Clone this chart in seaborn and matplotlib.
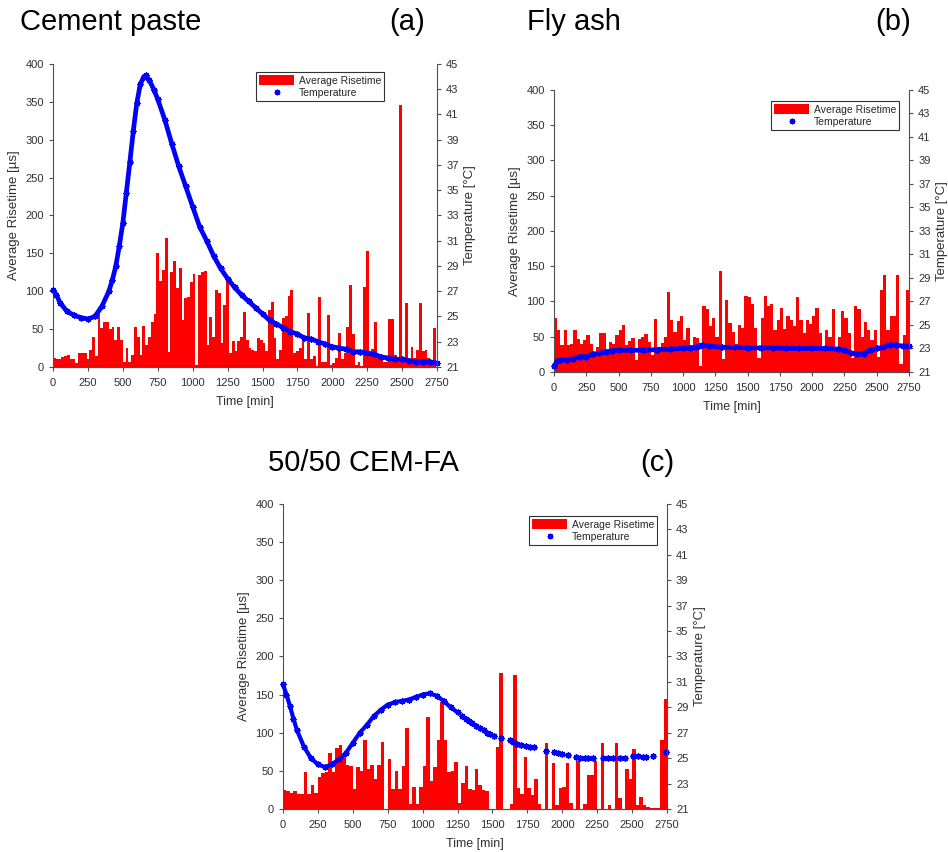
import numpy as np
import pandas as pd
import matplotlib
matplotlib.use("Agg")
import matplotlib.pyplot as plt
import seaborn as sns
from matplotlib.patches import Rectangle
from matplotlib.lines import Line2D

sns.set_style("ticks")
plt.rcParams["font.family"] = ["Liberation Sans", "DejaVu Sans"]

RED = "#ff0000"
BLUE = "#0000ff"
INK = "#303030"
STAR = (8, 2, 0)

# ---------------- Cement paste: average risetime per 20-min bin [µs]
paste_bin_min = 20
paste_risetime = [
    12, 10, 10, 13, 15, 16, 10, 10, 5, 19,
    18, 19, 10, 23, 40, 14, 79, 51, 60, 60,
    50, 53, 36, 53, 35, 7, 25, 7, 16, 53,
    40, 16, 54, 29, 40, 60, 70, 151, 113, 128,
    170, 20, 126, 140, 104, 131, 62, 91, 93, 112,
    123, 3, 121, 126, 127, 29, 66, 40, 102, 97,
    32, 82, 115, 18, 34, 21, 34, 40, 73, 35,
    25, 23, 21, 38, 36, 32, 21, 75, 86, 38,
    10, 23, 64, 67, 94, 102, 18, 21, 25, 36,
    10, 71, 10, 14, 1, 93, 7, 7, 69, 3,
    5, 12, 45, 10, 18, 53, 108, 43, 3, 7,
    1, 105, 153, 15, 24, 59, 14, 12, 7, 7,
    63, 63, 16, 7, 346, 7, 84, 5, 27, 12,
    23, 84, 21, 23, 12, 5, 51,
]
paste_temp_time = [0, 25, 50, 100, 150, 200, 250, 300, 350, 400, 425, 450, 475,
                   500, 525, 550, 575, 600, 625, 650, 665, 690, 725, 750, 800,
                   850, 900, 950, 1000, 1050, 1100, 1150, 1200, 1250, 1300, 1350,
                   1400, 1450, 1500, 1550, 1600, 1650, 1700, 1750, 1800, 1850,
                   1900, 1950, 2000, 2050, 2100, 2150, 2200, 2250, 2300, 2350,
                   2400, 2450, 2500, 2550, 2600, 2650, 2700, 2750]
paste_temp = [27.1, 26.7, 26.1, 25.4, 25.1, 24.9, 24.8, 25.0, 25.8, 27.0, 27.9,
              29.0, 30.6, 32.4, 34.8, 37.2, 39.7, 41.9, 43.4, 44.0, 44.1, 43.7,
              42.9, 42.2, 40.6, 38.7, 36.9, 35.3, 33.7, 32.1, 31.0, 29.8, 28.8,
              28.0, 27.3, 26.7, 26.2, 25.7, 25.2, 24.7, 24.4, 24.1, 23.8, 23.6,
              23.3, 23.2, 23.0, 22.8, 22.6, 22.5, 22.4, 22.2, 22.2, 22.1, 22.0,
              21.8, 21.7, 21.6, 21.6, 21.5, 21.4, 21.4, 21.4, 21.3]

# ---------------- Fly ash: average risetime per 25-min bin [µs]
flyash_bin_min = 25
flyash_risetime = [
    77, 59, 38, 60, 38, 40, 59, 47, 40, 45,
    53, 40, 28, 35, 55, 55, 30, 43, 40, 52,
    60, 67, 38, 44, 48, 17, 47, 50, 54, 43,
    24, 75, 35, 41, 50, 114, 74, 57, 72, 80,
    45, 62, 35, 50, 48, 9, 94, 90, 65, 76,
    50, 143, 19, 102, 69, 57, 40, 66, 63, 108,
    107, 97, 63, 20, 76, 108, 94, 96, 59, 74,
    91, 61, 80, 74, 65, 107, 74, 55, 74, 68,
    80, 91, 55, 33, 60, 50, 89, 30, 50, 86,
    77, 55, 20, 94, 90, 50, 71, 59, 45, 59,
    21, 116, 137, 60, 80, 80, 138, 11, 53, 116,
]
flyash_temp_time = [0, 25, 50, 100, 150, 200, 250, 300, 350, 400, 450, 500, 600,
                    700, 800, 900, 1000, 1050, 1100, 1125, 1150, 1200, 1300, 1400,
                    1500, 1600, 1700, 1800, 1900, 2000, 2100, 2200, 2250, 2300,
                    2350, 2400, 2450, 2500, 2550, 2600, 2650, 2700, 2750]
flyash_temp = [21.5, 21.9, 22.0, 22.05, 22.1, 22.3, 22.3, 22.5, 22.6, 22.7, 22.8,
               22.85, 22.85, 22.85, 22.9, 22.95, 23.0, 23.05, 23.1, 23.2, 23.3,
               23.2, 23.1, 23.1, 23.05, 23.05, 23.05, 23.0, 23.0, 23.0, 23.0,
               22.95, 22.85, 22.6, 22.5, 22.55, 22.85, 23.0, 23.1, 23.3, 23.3,
               23.2, 23.2]

# ---------------- 50/50 CEM-FA: average risetime per 25-min bin [µs]
blend_bin_min = 25
blend_risetime = [
    25, 23, 21, 23, 20, 20, 48, 20, 31, 21,
    42, 47, 48, 73, 48, 80, 84, 69, 58, 57,
    26, 55, 50, 90, 53, 58, 39, 58, 88, 0,
    66, 26, 50, 26, 57, 106, 7, 29, 6, 29,
    56, 120, 37, 55, 91, 140, 91, 49, 50, 61,
    8, 34, 57, 26, 25, 52, 31, 25, 24, 0,
    0, 81, 178, 0, 0, 7, 176, 28, 19, 68,
    27, 18, 39, 7, 0, 86, 0, 60, 5, 27,
    29, 60, 8, 0, 63, 0, 7, 45, 44, 63,
    0, 87, 0, 5, 0, 86, 14, 0, 53, 39,
    79, 5, 16, 5, 2, 1, 1, 1, 91, 144,
]
# continuous logging during the first day
blend_temp_time = [0, 25, 50, 75, 100, 150, 200, 250, 300, 350, 400, 450, 500,
                   550, 600, 650, 700, 750, 800, 850, 900, 950, 1000, 1050, 1100,
                   1150, 1200, 1250]
blend_temp = [30.8, 30.0, 29.1, 28.1, 27.2, 25.9, 25.0, 24.5, 24.3, 24.5, 24.9,
              25.4, 26.2, 27.0, 27.6, 28.3, 28.8, 29.2, 29.4, 29.5, 29.6, 29.8,
              30.0, 30.1, 29.9, 29.5, 29.0, 28.6]
# intermittent readings afterwards
blend_late_time = [1284, 1308, 1332, 1356, 1384, 1408, 1437, 1461, 1484, 1508,
                   1563, 1623, 1647, 1675, 1706, 1742, 1771, 1795, 1881, 1938,
                   1969, 2000, 2041, 2096, 2124, 2160, 2184, 2220, 2291, 2327,
                   2363, 2411, 2446, 2506, 2542, 2578, 2601, 2649, 2740]
blend_late_temp = [28.3, 28.06, 27.9, 27.75, 27.5, 27.35, 27.2, 27.0, 26.9, 26.75,
                   26.55, 26.4, 26.3, 26.1, 26.05, 25.95, 25.9, 25.85, 25.6, 25.45,
                   25.4, 25.35, 25.25, 25.1, 25.05, 25.05, 25.05, 25.0, 25.0, 25.0,
                   25.0, 25.05, 25.05, 25.15, 25.15, 25.1, 25.1, 25.2, 25.5]

time_ticks = list(range(0, 2751, 250))
rise_ticks = list(range(0, 401, 50))
temp_ticks = list(range(21, 46, 2))

fig = plt.figure(figsize=(9.48, 8.52), dpi=100)


def style_axis(ax, side):
    ax.tick_params(axis="both", direction="out", length=3, width=0.8,
                   labelsize=8, colors="#505050", labelcolor=INK, pad=3.5)
    ax.tick_params(axis="x", pad=5)
    for s in ax.spines.values():
        s.set_color("#505050")
        s.set_linewidth(0.8)
    ax.spines["top"].set_visible(False)
    ax.spines["left" if side == "right" else "right"].set_visible(False)


def draw_panel(rect, bin_min, risetime, temp_time, temp, legend_xy,
               late_time=None, late_temp=None, lw=3.4):
    ax = fig.add_axes(rect)
    n = len(risetime)
    starts = np.arange(n) * bin_min
    bars = pd.DataFrame({"time": starts + bin_min / 2, "rise": risetime})
    sns.histplot(data=bars, x="time", weights="rise", bins=n,
                 binrange=(0, n * bin_min), color=RED, alpha=1, linewidth=0,
                 ax=ax)
    ax.set_xlim(0, 2750)
    ax.set_ylim(0, 400)
    ax.set_xticks(time_ticks)
    ax.set_yticks(rise_ticks)
    style_axis(ax, "left")
    ax.set_xlabel("Time [min]", fontsize=9, color=INK, labelpad=5.5)
    ax.set_ylabel("Average Risetime [µs]", fontsize=9.5, color=INK, labelpad=4)

    ax2 = ax.twinx()
    curve = pd.DataFrame({"time": temp_time, "temp": temp})
    sns.lineplot(data=curve, x="time", y="temp", ax=ax2, color=BLUE, lw=lw,
                 marker=STAR, markersize=4.5, markeredgecolor=BLUE,
                 markeredgewidth=0.9, sort=False, estimator=None, clip_on=False)
    if late_time is not None:
        late = pd.DataFrame({"time": late_time, "temp": late_temp})
        sns.lineplot(data=late, x="time", y="temp", ax=ax2, color=BLUE,
                     linestyle="none", marker=STAR, markersize=4.5,
                     markeredgecolor=BLUE, markeredgewidth=1.0, sort=False,
                     estimator=None, clip_on=False)
    ax2.set_ylim(21, 45)
    ax2.set_yticks(temp_ticks)
    ax2.set_xlim(0, 2750)
    ax2.set_xlabel("")
    style_axis(ax2, "right")
    ax2.set_ylabel("Temperature [°C]", fontsize=9.5, color=INK, labelpad=4)

    handles = [Rectangle((0, 0), 1, 1, facecolor=RED, edgecolor="none"),
               Line2D([], [], linestyle="none", marker=STAR, color=BLUE,
                      markeredgecolor=BLUE, markersize=4, markeredgewidth=1)]
    leg = ax2.legend(handles, ["Average Risetime", "Temperature"],
                     loc="upper right", bbox_to_anchor=legend_xy, fontsize=7.5,
                     frameon=True, fancybox=False, framealpha=1,
                     edgecolor="#333333", handlelength=3.4, handleheight=1.1,
                     borderpad=0.3, labelspacing=0.2, handletextpad=0.4,
                     borderaxespad=0)
    leg.get_frame().set_linewidth(0.8)
    return ax, ax2


draw_panel([0.0559, 0.5693, 0.4052, 0.3556], paste_bin_min, paste_risetime,
           paste_temp_time, paste_temp, (0.862, 0.974))
draw_panel([0.5844, 0.5634, 0.3745, 0.3310], flyash_bin_min, flyash_risetime,
           flyash_temp_time, flyash_temp, (0.972, 0.961))
draw_panel([0.2985, 0.0505, 0.4051, 0.3580], blend_bin_min, blend_risetime,
           blend_temp_time, blend_temp, (0.974, 0.961),
           late_time=blend_late_time, late_temp=blend_late_temp, lw=3.0)

title_kw = dict(fontsize=21, color="black", va="center", ha="left")
fig.text(0.021, 0.9745, "Cement paste", **title_kw)
fig.text(0.411, 0.9745, "(a)", **title_kw)
fig.text(0.556, 0.9745, "Fly ash", **title_kw)
fig.text(0.923, 0.9745, "(b)", **title_kw)
fig.text(0.283, 0.4565, "50/50 CEM-FA", **title_kw)
fig.text(0.675, 0.4565, "(c)", **title_kw)

fig.savefig("out.png", dpi=100)
